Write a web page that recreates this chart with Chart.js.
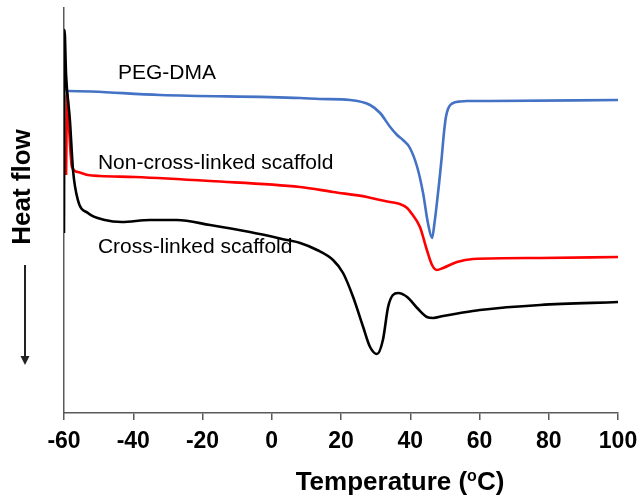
<!DOCTYPE html>
<html>
<head>
<meta charset="utf-8">
<script src="https://cdn.jsdelivr.net/npm/chart.js@4"></script>
<style>
  body { margin: 0; background: #fff; }
  canvas { display: block; }
</style>
</head>
<body>
<canvas id="myChart" width="640" height="498"></canvas>
<script>
// temperatures (°C) and heat flow (arbitrary units)
const pegTemp = [-59.4, -58.8, -32.3, 8.2, 13.9, 22.6, 28.4, 31.3, 34.2, 36.2, 37.9, 39.9, 42.0, 43.7, 45.1, 46.3, 47.0, 47.7, 48.4, 49.1, 49.7, 50.3, 50.9, 51.7, 52.7, 54.4, 56.4, 63.0, 100];
const pegFlow = [322, 322, 318, 315, 314, 313, 308, 300, 286, 278, 273, 265, 246, 220, 190, 175, 190, 210, 232, 256, 279, 296, 304, 308.5, 310.5, 311.5, 312, 312, 313];

const nonTemp = [-59.4, -59.1, -58.5, -57.7, -56.0, -53.1, -49.6, -39.5, -17.8, 8.2, 17.7, 27.5, 31.3, 34.2, 37.0, 39.1, 40.5, 42.8, 44.8, 46.3, 47.7, 49.5, 53.5, 58.1, 77.5, 100];
const nonFlow = [238, 320, 283, 246, 241, 238, 237, 236, 232, 226, 221, 216, 213, 211, 209, 205, 199, 186, 163, 148, 143, 145, 151, 154, 155, 156];

const crossTemp = [-60, -59.85, -59.4, -58.3, -57.4, -56.0, -53.1, -48.2, -43.3, -35.2, -27.4, -17.8, -6.3, 4.4, 8.2, 13.1, 17.7, 20.6, 23.5, 26.4, 28.4, 30.4, 32.1, 33.6, 35.0, 36.5, 39.1, 42.0, 44.8, 46.6, 49.5, 54.4, 60.1, 77.5, 100];
const crossFlow = [180, 383, 338, 293, 243, 213, 200, 193, 191, 193, 193, 188, 181, 173, 170, 163, 153, 140, 116, 86, 66, 59, 73, 106, 118, 120, 116, 105, 96, 95, 97, 100, 103, 108, 111];

const xTicks = [-60, -40, -20, 0, 20, 40, 60, 80, 100];

// curve labels: text, temperature, heat flow (baseline of the text)
const labelText = ['PEG-DMA', 'Non-cross-linked scaffold', 'Cross-linked scaffold'];
const labelTemp = [-44.4, -50.2, -50.2];
const labelFlow = [334, 244, 160];

function pts(xs, ys) {
    return xs.map((x, i) => ({ x: x, y: ys[i] }));
}

const extras = {
    id: 'extras',
    afterDraw(chart) {
        const ctx = chart.ctx;
        const xs = chart.scales.x;
        const ys = chart.scales.y;
        const area = chart.chartArea;
        ctx.save();
        ctx.fillStyle = '#000';

        // curve labels
        ctx.font = '21px "Liberation Sans", Arial, sans-serif';
        ctx.textAlign = 'left';
        ctx.textBaseline = 'alphabetic';
        labelText.forEach((t, i) => {
            ctx.fillText(t, xs.getPixelForValue(labelTemp[i]), ys.getPixelForValue(labelFlow[i]));
        });

        // x title with superscript o
        const big = 'bold 26px "Liberation Sans", Arial, sans-serif';
        const small = 'bold 16px "Liberation Sans", Arial, sans-serif';
        ctx.font = big;
        const a = 'Temperature (';
        const c = 'C)';
        const wa = ctx.measureText(a).width;
        const wc = ctx.measureText(c).width;
        ctx.font = small;
        const wo = ctx.measureText('o').width;
        let x0 = 400 - (wa + wo + wc) / 2;
        const base = area.bottom + 77;
        ctx.font = big;
        ctx.fillText(a, x0, base);
        ctx.font = small;
        ctx.fillText('o', x0 + wa, base - 9);
        ctx.font = big;
        ctx.fillText(c, x0 + wa + wo, base);

        // y title
        ctx.save();
        ctx.translate(23, 187);
        ctx.rotate(-Math.PI / 2);
        ctx.font = 'bold 26px "Liberation Sans", Arial, sans-serif';
        ctx.textAlign = 'center';
        ctx.textBaseline = 'middle';
        ctx.fillText('Heat flow', 0, 0);
        ctx.restore();

        // arrow
        ctx.strokeStyle = '#222';
        ctx.fillStyle = '#222';
        ctx.lineWidth = 2;
        ctx.beginPath();
        ctx.moveTo(25, 265);
        ctx.lineTo(25, 357);
        ctx.stroke();
        ctx.beginPath();
        ctx.moveTo(20.5, 356);
        ctx.lineTo(29.5, 356);
        ctx.lineTo(25, 365);
        ctx.closePath();
        ctx.fill();
        ctx.restore();
    }
};

const ctx = document.getElementById('myChart').getContext('2d');
const myChart = new Chart(ctx, {
    type: 'line',
    data: {
        datasets: [
            { label: 'Cross-linked scaffold', data: pts(crossTemp, crossFlow), borderColor: '#000000' },
            { label: 'Non-cross-linked scaffold', data: pts(nonTemp, nonFlow), borderColor: '#ff0000' },
            { label: 'PEG-DMA', data: pts(pegTemp, pegFlow), borderColor: '#4472c4' }
        ]
    },
    options: {
        responsive: false,
        animation: false,
        layout: { padding: { left: 64, right: 22, top: 8, bottom: 0 } },
        elements: {
            point: { radius: 0 },
            line: { borderWidth: 2.6, cubicInterpolationMode: 'monotone', fill: false }
        },
        plugins: {
            legend: { display: false },
            tooltip: { enabled: false }
        },
        scales: {
            x: {
                type: 'linear',
                min: -60,
                max: 100,
                afterBuildTicks: s => { s.ticks = xTicks.map(v => ({ value: v })); },
                afterFit: s => { s.height = 85; s.paddingLeft = 0; s.paddingRight = 0; },
                ticks: {
                    color: '#000',
                    padding: 8,
                    maxRotation: 0,
                    font: { family: '"Liberation Sans", Arial, sans-serif', size: 23, weight: 'bold' }
                },
                grid: { drawOnChartArea: false, drawTicks: true, tickLength: 7, color: '#595959', lineWidth: 1.5 },
                border: { color: '#595959', width: 1.5 }
            },
            y: {
                min: 0,
                max: 405,
                afterFit: s => { s.width = 0; s.paddingTop = 0; s.paddingBottom = 0; },
                ticks: { display: false },
                grid: { drawOnChartArea: false, drawTicks: false },
                border: { color: '#595959', width: 1.5 }
            }
        }
    },
    plugins: [extras]
});
</script>
</body>
</html>
